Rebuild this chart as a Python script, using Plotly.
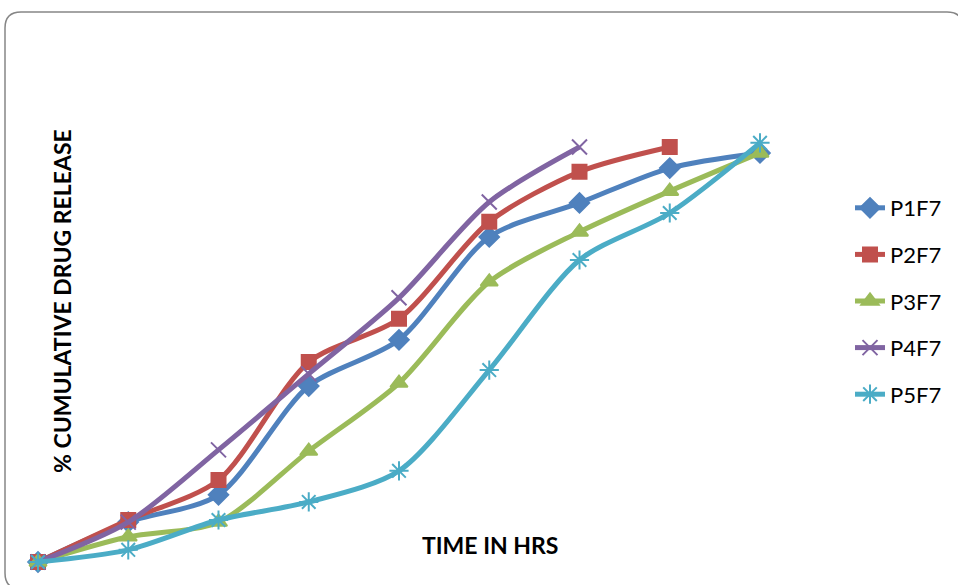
import plotly.graph_objects as go

W, H = 958, 585

# Sampling times (hours) and cumulative release (%) for each formulation
time_hrs = [0, 1, 2, 3, 4, 5, 6, 7, 8]
p1f7 = [0, 9.5, 16.0, 41.9, 52.9, 77.4, 85.5, 93.8, 97.4]
p2f7 = [0, 10.0, 19.5, 47.6, 57.9, 81.0, 92.9, 98.8]
p3f7 = [0, 6.0, 9.5, 26.4, 42.6, 66.7, 78.6, 88.3, 97.4]
p4f7 = [0, 9.5, 26.7, 44.8, 62.9, 85.7, 98.8]
p5f7 = [0, 2.9, 10.0, 14.3, 21.7, 45.7, 71.9, 83.1, 99.8]

series = [
    ("P1F7", p1f7, "#4F81BD", "diamond", 15),
    ("P2F7", p2f7, "#C0504D", "square", 14),
    ("P3F7", p3f7, "#9BBB59", "triangle-up", 15),
    ("P4F7", p4f7, "#8064A2", "x-thin-open", 15),
    ("P5F7", p5f7, "#4BACC6", "asterisk-open", 16),
]

fig = go.Figure()
for i, (name, vals, color, symbol, size) in enumerate(series):
    fig.add_trace(go.Scatter(
        x=time_hrs[:len(vals)], y=vals, name=name, legendgroup=f"g{i}",
        mode="lines+markers",
        line=dict(color=color, width=5, shape="spline", smoothing=0.8),
        marker=dict(symbol=symbol, size=size, color=color,
                    line=dict(color=color, width=2)),
    ))


def px(x):
    return x / W


def py(y):
    return 1 - y / H


# Rounded chart frame
x0, y0, x1, y1, r = 5, 12, 963, 589, 16
frame = (f"M {px(x0)},{py(y0 + r)} "
         f"Q {px(x0)},{py(y0)} {px(x0 + r)},{py(y0)} "
         f"L {px(x1 - r)},{py(y0)} "
         f"Q {px(x1)},{py(y0)} {px(x1)},{py(y0 + r)} "
         f"L {px(x1)},{py(y1 - r)} "
         f"Q {px(x1)},{py(y1)} {px(x1 - r)},{py(y1)} "
         f"L {px(x0 + r)},{py(y1)} "
         f"Q {px(x0)},{py(y1)} {px(x0)},{py(y1 - r)} Z")

fig.update_layout(
    width=W, height=H,
    margin=dict(l=0, r=0, t=0, b=0),
    paper_bgcolor="white", plot_bgcolor="white",
    font=dict(family="Lato", color="black"),
    xaxis=dict(range=[-38 / 90.25, 8 + 198 / 90.25], visible=False),
    yaxis=dict(range=[-23 / 4.2, 562 / 4.2], visible=False),
    showlegend=True,
    legend=dict(x=px(850), y=py(187), xanchor="left", yanchor="top",
                font=dict(size=22, family="Lato"),
                tracegroupgap=15, bgcolor="rgba(0,0,0,0)"),
    shapes=[dict(type="path", path=frame, xref="paper", yref="paper",
                 line=dict(color="#868686", width=1.5), layer="below")],
    annotations=[
        dict(text="<b>TIME IN HRS</b>", x=px(490), y=py(545),
             xref="paper", yref="paper", showarrow=False,
             xanchor="center", yanchor="middle",
             font=dict(size=23, family="Lato")),
        dict(text="<b>% CUMULATIVE DRUG RELEASE</b>", x=px(62), y=py(301),
             xref="paper", yref="paper", showarrow=False, textangle=-90,
             xanchor="center", yanchor="middle",
             font=dict(size=23, family="Lato")),
    ],
)

fig.write_html("out.html")
